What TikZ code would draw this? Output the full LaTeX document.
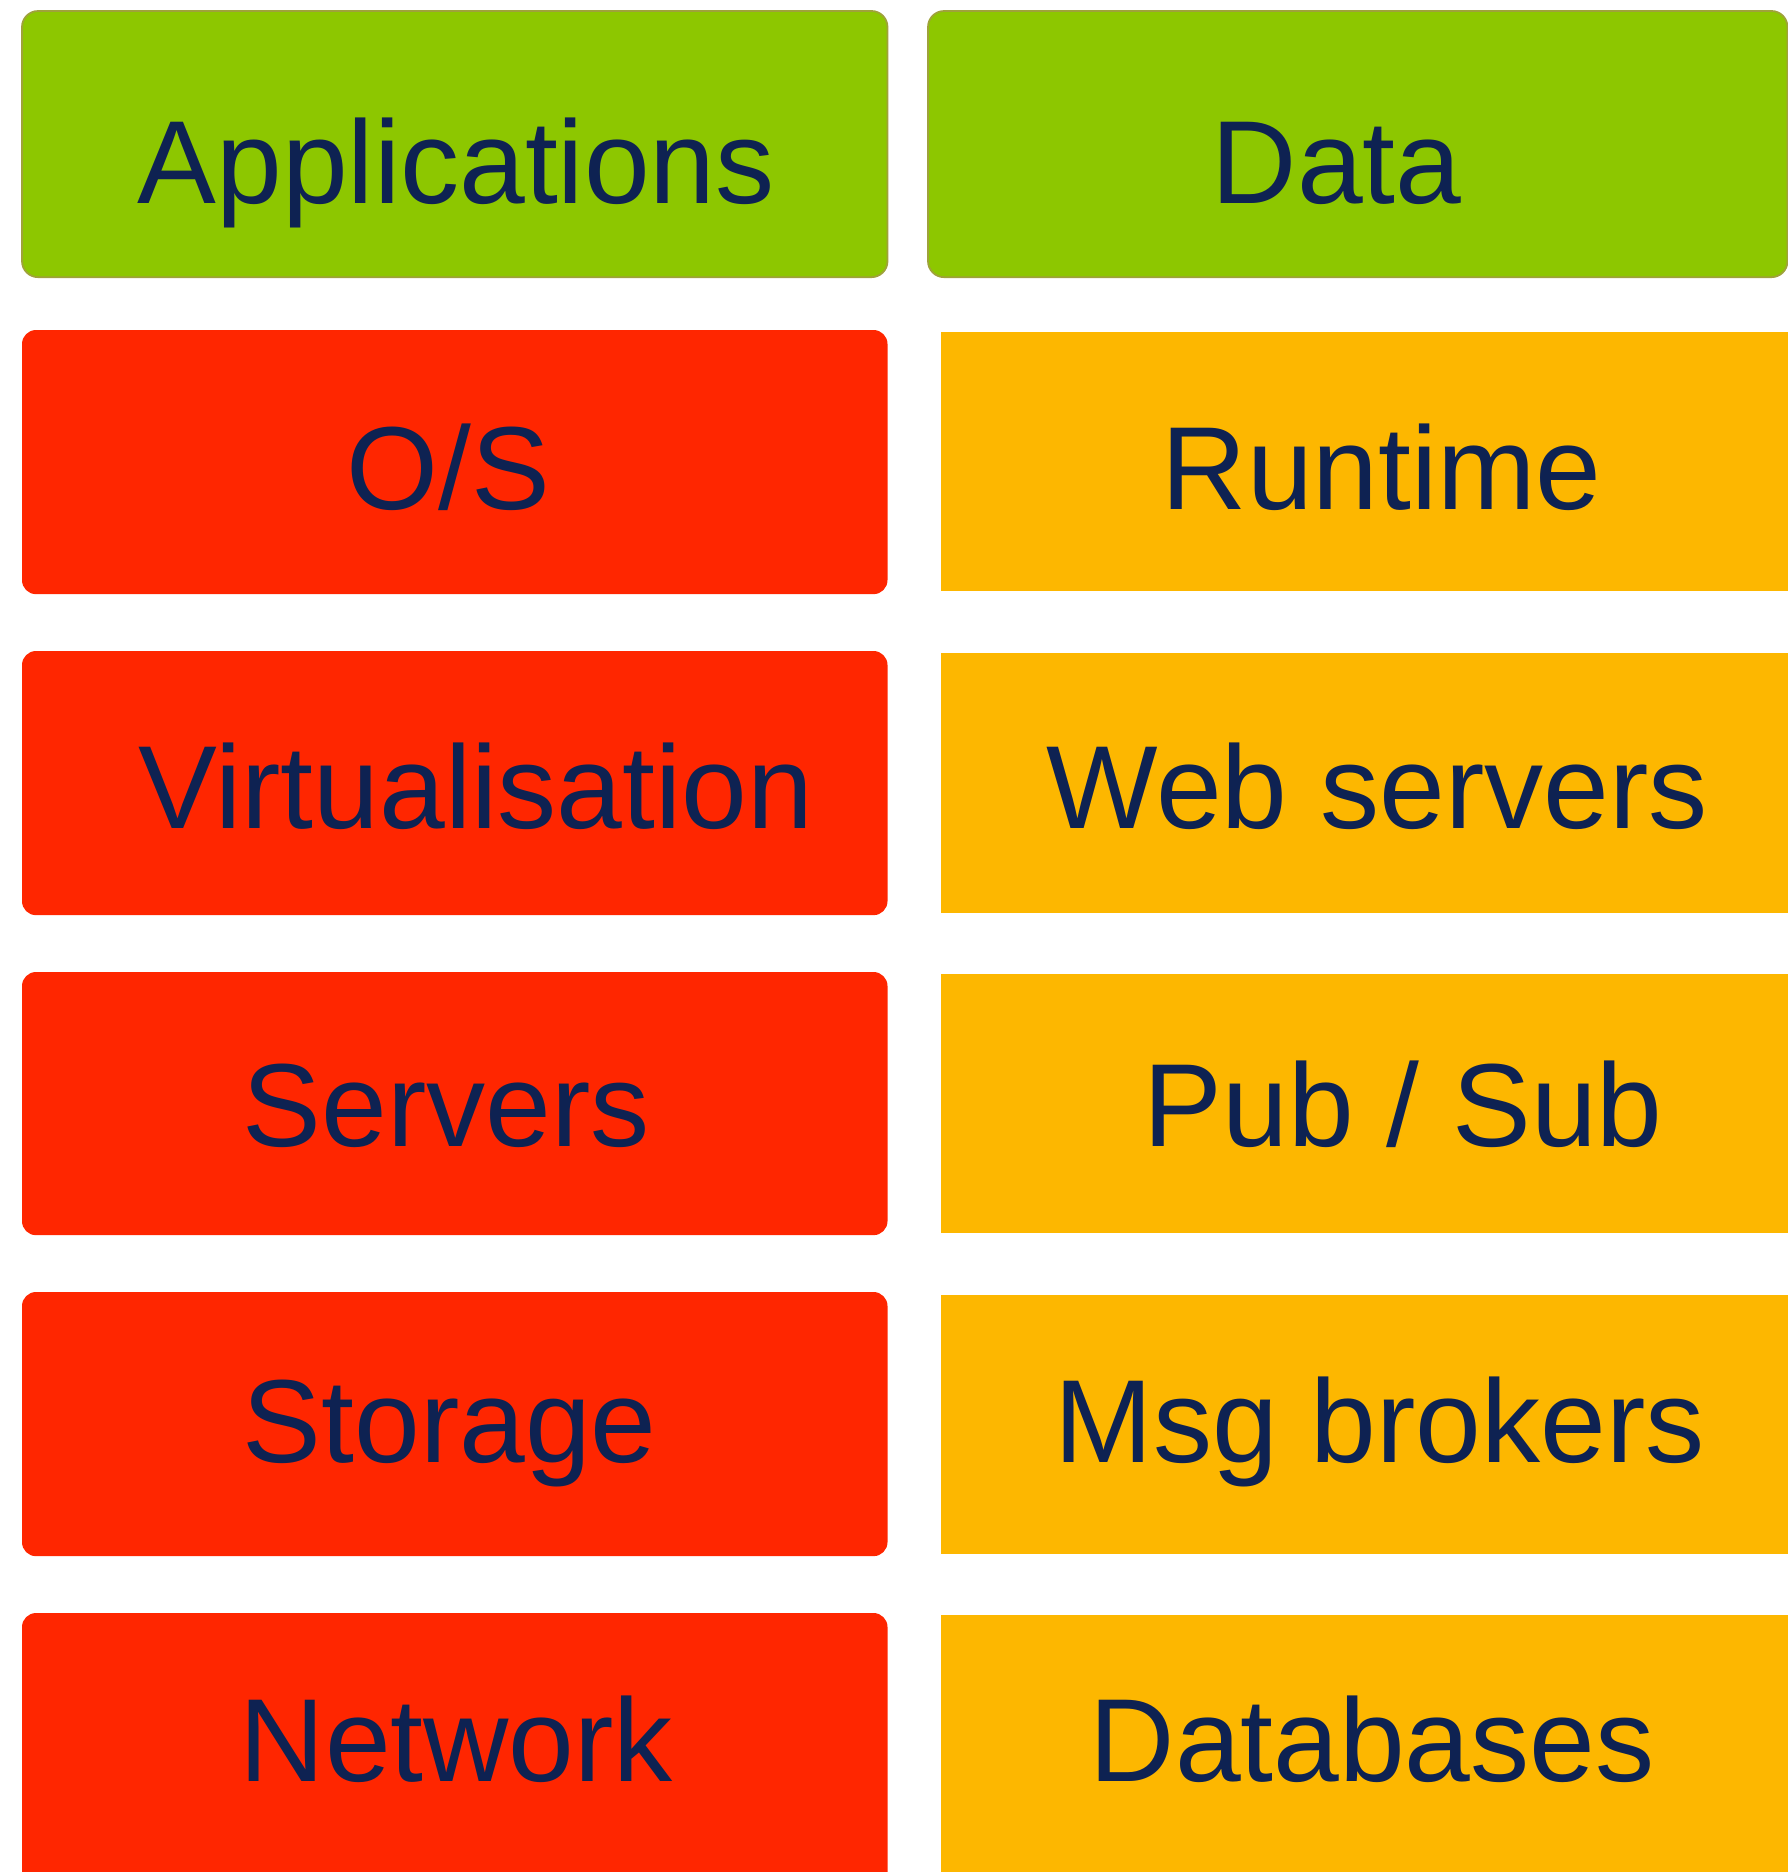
\documentclass[tikz,border=0pt]{standalone}
\usepackage{fontspec}
\setmainfont{Liberation Sans}
\definecolor{appgreen}{HTML}{8DC700}
\definecolor{appedge}{HTML}{9FA23A}
\definecolor{infrared}{HTML}{FF2600}
\definecolor{midorange}{HTML}{FDB700}
\definecolor{textnavy}{HTML}{0E2252}
\begin{document}
\begin{tikzpicture}[x=0.01cm,y=-0.01cm,
  layer/.style={anchor=north west,inner sep=0pt,outer sep=0pt},
  layertext/.style={anchor=base west,inner sep=0pt,text=textnavy,
    font=\fontsize{33.6}{40}\selectfont}]
\useasboundingbox (0,0) rectangle (1788,1872);
% top row: what the user owns
\node[layer,fill=appgreen,draw=appedge,line width=0.5pt,rounded corners=0.16cm,
  minimum width=8.65cm,minimum height=2.66cm] (appsbox) at (22,11) {};
\node[layer,fill=appgreen,draw=appedge,line width=0.5pt,rounded corners=0.16cm,
  minimum width=8.59cm,minimum height=2.66cm] (databox) at (928,11) {};
% left stack
\foreach \i/\t/\h in {1/330/2.64,2/651/2.64,3/972/2.63,4/1292/2.64,5/1613/3.0}{
  \node[layer,fill=infrared,rounded corners=0.14cm,
    minimum width=8.65cm,minimum height=\h cm] (infra\i) at (22,\t) {};
}
% right stack
\foreach \i/\t/\h in {1/332/2.59,2/653/2.60,3/974/2.59,4/1295/2.59,5/1615/3.0}{
  \node[layer,fill=midorange,minimum width=8.8cm,minimum height=\h cm]
    (mid\i) at (941,\t) {};
}
\node[layertext] (apps) at (137,203) {Applications};
\node[layertext] (data) at (1211,203) {Data};
\node[layertext] (os) at (346,509) {O/S};
\node[layertext] (virt) at (138,828) {Virtualisation};
\node[layertext] (servers) at (242,1146) {Servers};
\node[layertext] (storage) at (242,1462) {Storage};
\node[layertext] (network) at (239,1781) {Network};
\node[layertext] (runtime) at (1161,509) {Runtime};
\node[layertext] (web) at (1046,828) {Web servers};
\node[layertext] (pubsub) at (1143,1146) {Pub / Sub};
\node[layertext] (msg) at (1054,1462) {Msg brokers};
\node[layertext] (db) at (1089,1781) {Databases};
\end{tikzpicture}
\end{document}
